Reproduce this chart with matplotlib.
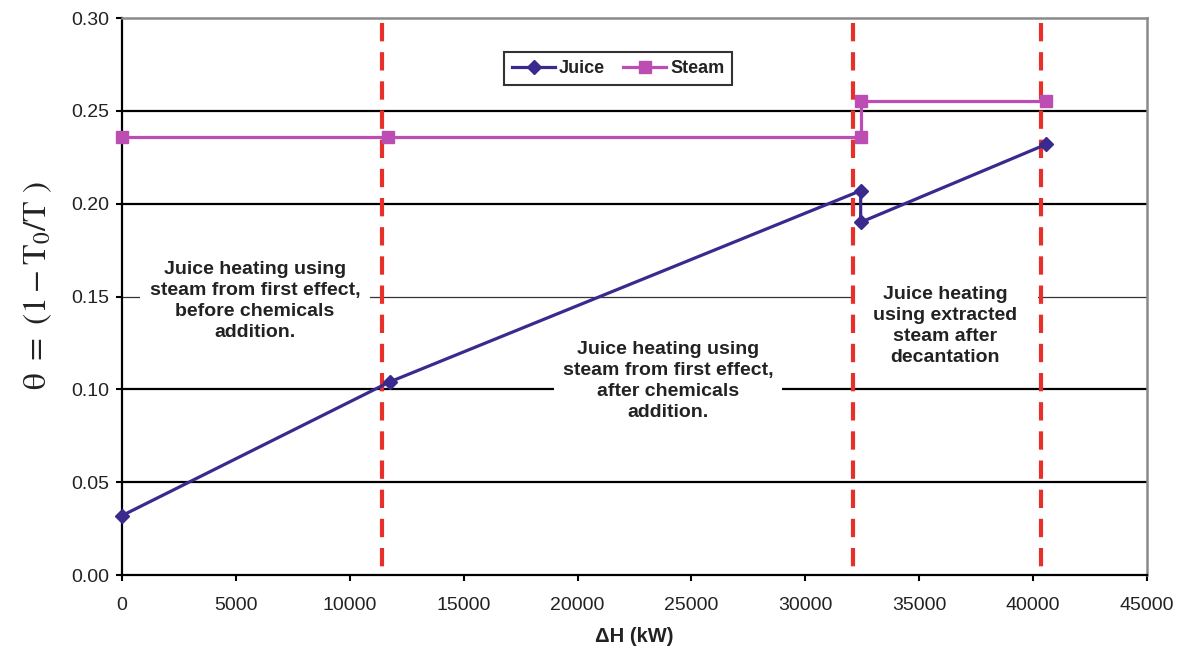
import matplotlib
matplotlib.use("Agg")
import matplotlib.pyplot as plt

# ---- data ----
juice_x = [0, 11750, 32430, 32430, 40580]
juice_y = [0.032, 0.104, 0.207, 0.190, 0.232]
steam_x = [0, 11700, 32430, 32430, 40580]
steam_y = [0.2357, 0.2357, 0.2357, 0.2555, 0.2555]
boundaries = [11400, 32100, 40330]
x_ticks = [0, 5000, 10000, 15000, 20000, 25000, 30000, 35000, 40000, 45000]
y_ticks = [0.00, 0.05, 0.10, 0.15, 0.20, 0.25, 0.30]
region_labels = [
    "Juice heating using\nsteam from first effect,\nbefore chemicals\naddition.",
    "Juice heating using\nsteam from first effect,\nafter chemicals\naddition.",
    "Juice heating\nusing extracted\nsteam after\ndecantation",
]
region_pos = [(5840, 0.1476), (23970, 0.1045), (36130, 0.134)]
region_pad = [0.5, 0.45, 1.1]

plt.rcParams['font.family'] = ['Liberation Sans', 'DejaVu Sans']
plt.rcParams['mathtext.fontset'] = 'stix'
plt.rcParams['mathtext.default'] = 'rm'

fig = plt.figure(figsize=(11.8, 6.53), dpi=100)
ax = fig.add_axes([0.1034, 0.1194, 0.8686, 0.853])

ax.set_xlim(0, 45000)
ax.set_ylim(0, 0.30)

# gridlines
for t in y_ticks[1:-1]:
    if abs(t - 0.15) < 1e-9:
        ax.axhline(t, color='#333333', lw=0.9, zorder=1)
    else:
        ax.axhline(t, color='black', lw=1.6, zorder=1)

# region labels with white boxes
for txt, (tx, ty), pd in zip(region_labels, region_pos, region_pad):
    ax.text(tx, ty, txt, ha='center', va='center', fontsize=14, fontweight='bold',
            color='#222222', linespacing=1.3, zorder=2,
            bbox=dict(boxstyle=f'square,pad={pd}', fc='white', ec='none'))

# red dashed boundaries (dash pattern starts at the top)
for b in boundaries:
    ax.plot([b, b], [0.2975, 0], color='#E8302A', lw=3.0, dashes=(4.4, 2.6),
            zorder=3, clip_on=False)

# series
ax.plot(juice_x, juice_y, color='#3B2A8E', lw=2.3, marker='D', markersize=7.5,
        label='Juice', zorder=5, clip_on=False)
ax.plot(steam_x, steam_y, color='#BB4DB3', lw=2.3, marker='s', markersize=8,
        label='Steam', zorder=4, clip_on=False)

# axes styling
ax.set_xticks(x_ticks)
ax.set_xticklabels([str(v) for v in x_ticks])
ax.set_yticks(y_ticks)
ax.set_yticklabels([f"{v:.2f}" for v in y_ticks])
ax.tick_params(axis='both', direction='out', length=4.5, width=1.5, color='black',
               labelsize=14, labelcolor='#222222')
ax.tick_params(axis='x', pad=11)
ax.tick_params(axis='y', pad=5)
for s in ['left', 'bottom']:
    ax.spines[s].set_color('black')
    ax.spines[s].set_linewidth(1.6)
for s in ['top', 'right']:
    ax.spines[s].set_color('#8a8a8a')
    ax.spines[s].set_linewidth(1.8)

ax.set_xlabel('ΔH (kW)', fontsize=14.5, fontweight='bold', color='#222222', labelpad=10)
ax.set_ylabel(r'$\theta\ =\ (1-\mathrm{T}_0/\mathrm{T}\ )$', fontsize=24, color='#222222',
              labelpad=12, y=0.52)

leg = ax.legend(loc='center', bbox_to_anchor=(0.484, 0.909), ncol=2, frameon=True,
                fancybox=False, edgecolor='black', handlelength=2.4, handletextpad=0.2,
                columnspacing=1.0, borderpad=0.45, prop={'weight': 'bold', 'size': 13})
leg.get_frame().set_linewidth(1.5)
for t in leg.get_texts():
    t.set_color('#222222')

fig.savefig('out.png', dpi=100)
